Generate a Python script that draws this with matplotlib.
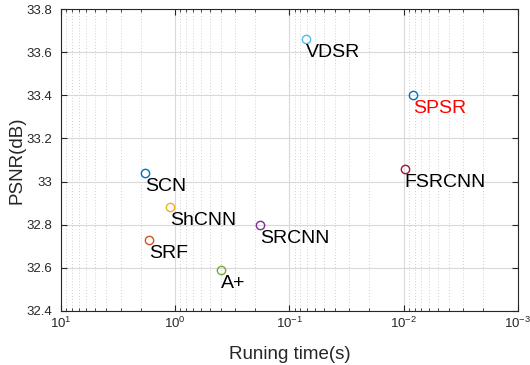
import matplotlib
matplotlib.use('Agg')
import matplotlib.pyplot as plt
import numpy as np

plt.rcParams['font.family'] = ['Liberation Sans', 'DejaVu Sans']
plt.rcParams['mathtext.default'] = 'regular'

# 方法名称、运行时间(s)、PSNR(dB)
methods = ['VDSR', 'SPSR', 'FSRCNN', 'SCN', 'ShCNN', 'SRF', 'A+', 'SRCNN']
times = [0.071, 0.0082, 0.0098, 1.83, 1.11, 1.70, 0.395, 0.18]
psnr = [33.66, 33.40, 33.06, 33.04, 32.88, 32.73, 32.59, 32.80]
colors = ['#4DBEEE', '#0072BD', '#A2142F', '#0072BD', '#EDB120', '#D95319', '#77AC30', '#7E2F8E']
label_colors = ['black', 'red', 'black', 'black', 'black', 'black', 'black', 'black']

fig = plt.figure(figsize=(5.3, 3.65), dpi=100)
ax = fig.add_axes([0.115, 0.148, 0.862, 0.827])

for m, t, p, c, lc in zip(methods, times, psnr, colors, label_colors):
    ax.plot(t, p, 'o', mfc='none', mec=c, ms=6, mew=1)
    ax.annotate(m, (t, p), xytext=(0, -3.5), textcoords='offset points',
                ha='left', va='top', fontsize=14, color=lc)

ax.set_xscale('log')
ax.set_xlim(10, 1e-3)
ax.set_ylim(32.4, 33.8)
ax.set_xticks([10, 1, 0.1, 0.01, 0.001])
ax.set_xticklabels(['$10^{1}$', '$10^{0}$', '$10^{-1}$', '$10^{-2}$', '$10^{-3}$'])
ax.set_yticks([32.4, 32.6, 32.8, 33, 33.2, 33.4, 33.6, 33.8])
ax.set_yticklabels(['32.4', '32.6', '32.8', '33', '33.2', '33.4', '33.6', '33.8'])

ax.grid(True, which='major', color='#d9d9d9', lw=0.8)
ax.grid(True, which='minor', axis='x', color='#c0c0c0', lw=0.6, ls=(0, (1, 2.5)))
ax.set_axisbelow(True)
ax.tick_params(which='both', direction='in', top=True, right=True, colors='#262626',
               labelsize=9.5)
ax.tick_params(axis='y', pad=6)
ax.tick_params(which='major', length=4)
ax.tick_params(which='minor', length=2)
for s in ax.spines.values():
    s.set_color('#262626')

ax.set_xlabel('Runing time(s)', fontsize=13.5, color='#262626', labelpad=11)
ax.set_ylabel('PSNR(dB)', fontsize=13.5, color='#262626', labelpad=1)

fig.savefig('out.png', dpi=100)
